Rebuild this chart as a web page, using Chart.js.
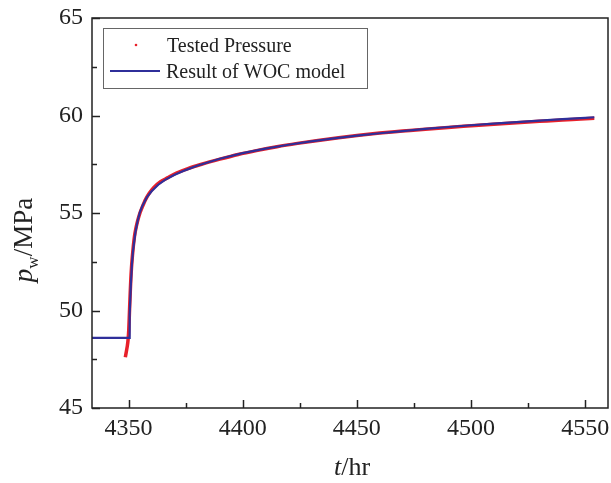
<!DOCTYPE html>
<html>
<head>
<meta charset="utf-8">
<script src="https://cdn.jsdelivr.net/npm/chart.js@4.4.1/dist/chart.umd.min.js"></script>
<style>
html,body{margin:0;padding:0;background:#fff;}
#wrap{width:611px;height:483px;position:relative;}
</style>
</head>
<body>
<div id="wrap"><canvas id="c" width="611" height="483"></canvas></div>
<script>
// ---- data ----
const modelT = [4334, 4350.3, 4350.5, 4351, 4351.5, 4352, 4353, 4354, 4355, 4356, 4358, 4360, 4363, 4366, 4370, 4375, 4380, 4390, 4400, 4410, 4420, 4430, 4440, 4450, 4460, 4470, 4480, 4490, 4500, 4510, 4520, 4530, 4540, 4550, 4554];
const modelP = [48.6, 48.6, 49.8, 51.3, 52.4, 53.1, 54.0, 54.6, 55.05, 55.35, 55.8, 56.1, 56.45, 56.7, 56.95, 57.2, 57.42, 57.78, 58.07, 58.3, 58.5, 58.67, 58.83, 58.97, 59.09, 59.2, 59.31, 59.41, 59.5, 59.58, 59.66, 59.74, 59.81, 59.88, 59.91];
const testedT = [4348.6, 4348.9, 4349.2, 4349.5, 4349.8, 4350.1, 4350.4, 4350.7, 4351, 4351.3, 4351.7, 4352.1, 4352.6, 4353.2, 4354, 4355, 4356, 4357.5, 4359, 4361, 4364, 4367, 4371, 4376, 4382, 4390, 4398, 4406, 4415, 4424, 4433, 4442, 4451, 4460, 4470, 4480, 4490, 4500, 4510, 4520, 4530, 4540, 4548, 4554];
const testedP = [47.6, 47.8, 48.0, 48.2, 48.5, 49.0, 49.9, 50.8, 51.6, 52.2, 52.8, 53.3, 53.8, 54.2, 54.6, 55.0, 55.3, 55.7, 56.0, 56.3, 56.6, 56.8, 57.05, 57.28, 57.5, 57.76, 58.0, 58.2, 58.4, 58.57, 58.72, 58.86, 58.99, 59.1, 59.2, 59.3, 59.39, 59.47, 59.55, 59.63, 59.7, 59.77, 59.82, 59.86];
const xTicks = [4350, 4375, 4400, 4425, 4450, 4475, 4500, 4525, 4550];
const yTicks = [45, 47.5, 50, 52.5, 55, 57.5, 60, 62.5, 65];
const xMajor = [4350, 4400, 4450, 4500, 4550];
const yMajor = [45, 50, 55, 60, 65];
const seriesNames = ['Tested Pressure', 'Result of WOC model'];

const RED = '#e8202a';
const BLUE = '#2f2f9a';
const FONT = '"Liberation Serif", "Times New Roman", serif';

const pairs = (xs, ys) => xs.map((x, i) => ({x: x, y: ys[i]}));

const decor = {
  id: 'decor',
  afterDraw(chart) {
    const ctx = chart.ctx, a = chart.chartArea;
    const xs = chart.scales.x, ys = chart.scales.y;
    ctx.save();
    ctx.strokeStyle = '#222';
    ctx.lineWidth = 1.5;
    ctx.strokeRect(a.left, a.top, a.right - a.left, a.bottom - a.top);
    // inward ticks
    xTicks.forEach(v => {
      const px = Math.round(xs.getPixelForValue(v)) + 0.5;
      const len = xMajor.includes(v) ? 8 : 5;
      ctx.beginPath(); ctx.moveTo(px, a.bottom); ctx.lineTo(px, a.bottom - len); ctx.stroke();
    });
    yTicks.forEach(v => {
      const py = Math.round(ys.getPixelForValue(v)) + 0.5;
      const len = yMajor.includes(v) ? 8 : 5;
      ctx.beginPath(); ctx.moveTo(a.left, py); ctx.lineTo(a.left + len, py); ctx.stroke();
    });
    // legend
    ctx.lineWidth = 1;
    ctx.strokeStyle = '#666';
    ctx.strokeRect(103.5, 28.5, 264, 60);
    ctx.fillStyle = RED;
    ctx.beginPath(); ctx.arc(136, 45, 1.3, 0, Math.PI * 2); ctx.fill();
    ctx.strokeStyle = BLUE; ctx.lineWidth = 2;
    ctx.beginPath(); ctx.moveTo(110, 71); ctx.lineTo(160, 71); ctx.stroke();
    ctx.fillStyle = '#222';
    ctx.font = '20px ' + FONT;
    ctx.textBaseline = 'alphabetic';
    ctx.textAlign = 'left';
    ctx.fillText(seriesNames[0], 167, 52);
    ctx.fillText(seriesNames[1], 166, 78);
    // x title
    ctx.font = 'italic 26px ' + FONT;
    const tW = ctx.measureText('t').width;
    ctx.font = '26px ' + FONT;
    const rW = ctx.measureText('/hr').width;
    let x0 = 352 - (tW + rW) / 2;
    ctx.font = 'italic 26px ' + FONT;
    ctx.fillText('t', x0, 475);
    ctx.font = '26px ' + FONT;
    ctx.fillText('/hr', x0 + tW, 475);
    // y title
    ctx.translate(32, 240);
    ctx.rotate(-Math.PI / 2);
    ctx.font = 'italic 27px ' + FONT;
    const pW = ctx.measureText('p').width;
    ctx.font = '17px ' + FONT;
    const wW = ctx.measureText('w').width;
    ctx.font = '27px ' + FONT;
    const mW = ctx.measureText('/MPa').width;
    let s = -(pW + wW + mW) / 2;
    ctx.font = 'italic 27px ' + FONT;
    ctx.fillText('p', s, 0);
    ctx.font = '17px ' + FONT;
    ctx.fillText('w', s + pW, 6);
    ctx.font = '27px ' + FONT;
    ctx.fillText('/MPa', s + pW + wW, 0);
    ctx.restore();
  }
};

new Chart(document.getElementById('c'), {
  type: 'scatter',
  data: {
    datasets: [
      {
        label: seriesNames[1],
        data: pairs(modelT, modelP),
        showLine: true,
        borderColor: BLUE,
        borderWidth: 2.2,
        pointRadius: 0,
        tension: 0,
        order: 0
      },
      {
        label: seriesNames[0],
        data: pairs(testedT, testedP),
        showLine: true,
        borderColor: RED,
        backgroundColor: RED,
        borderWidth: 3.5,
        pointRadius: 0,
        cubicInterpolationMode: 'monotone',
        order: 1
      }
    ]
  },
  options: {
    responsive: false,
    animation: false,
    layout: {padding: {left: 0, right: 3, top: 18, bottom: 0}},
    plugins: {legend: {display: false}, tooltip: {enabled: false}},
    scales: {
      x: {
        type: 'linear', min: 4334, max: 4560,
        afterBuildTicks: s => { s.ticks = xMajor.map(v => ({value: v})); },
        afterFit: s => { s.height = 75; s.paddingLeft = 0; s.paddingRight = 0; },
        grid: {display: false, drawTicks: false},
        border: {display: false},
        ticks: {color: '#222', font: {family: FONT, size: 24}, padding: 6, maxRotation: 0,
                callback: v => String(v)}
      },
      y: {
        type: 'linear', min: 45, max: 65,
        afterBuildTicks: s => { s.ticks = yMajor.map(v => ({value: v})); },
        afterFit: s => { s.width = 92; s.paddingTop = 0; s.paddingBottom = 0; },
        grid: {display: false, drawTicks: false},
        border: {display: false},
        ticks: {color: '#222', font: {family: FONT, size: 24}, padding: 9,
                callback: v => String(v)}
      }
    }
  },
  plugins: [decor]
});
</script>
</body>
</html>
